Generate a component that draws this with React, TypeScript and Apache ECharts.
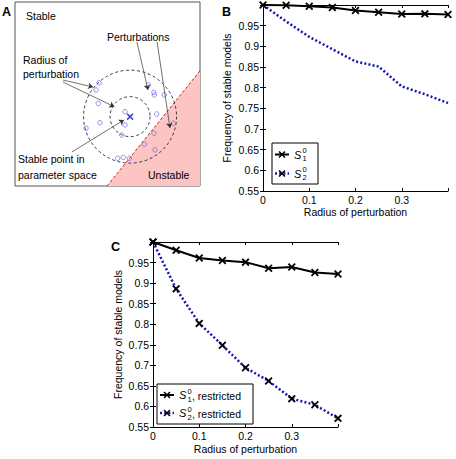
import React, { useEffect, useRef } from "react";
import * as echarts from "echarts";

// ---------- data ----------
const radius = [0, 0.05, 0.1, 0.15, 0.2, 0.25, 0.3, 0.35, 0.4];
const bS1 = [1.0, 0.9995, 0.997, 0.994, 0.9865, 0.9825, 0.978, 0.9786, 0.977];
const bS2 = [1.0, 0.9603, 0.923, 0.893, 0.8635, 0.851, 0.803, 0.784, 0.763];
const cS1 = [1.0, 0.98, 0.961, 0.955, 0.951, 0.936, 0.939, 0.926, 0.922];
const cS2 = [1.0, 0.886, 0.802, 0.749, 0.694, 0.662, 0.619, 0.604, 0.571];

// panel A schematic (unit square parameter space)
const perturbX = [0.454, 0.438, 0.45, 0.459, 0.384, 0.595, 0.595, 0.577, 0.721, 0.751, 0.753, 0.807, 0.766, 0.751, 0.856, 0.699, 0.757, 0.555, 0.585, 0.618];
const perturbY = [0.561, 0.522, 0.449, 0.344, 0.314, 0.404, 0.332, 0.277, 0.549, 0.509, 0.495, 0.495, 0.391, 0.287, 0.341, 0.228, 0.196, 0.151, 0.156, 0.151];
const stablePoint = [0.622, 0.377];
const boundaryX = [0.498, 1.0];
const boundaryY = [0.0, 0.626];
const arrows = [
  [[0.659, 0.783], [0.719, 0.522]],
  [[0.768, 0.783], [0.838, 0.315]],
  [[0.259, 0.576], [0.422, 0.538]],
  [[0.259, 0.565], [0.537, 0.431]],
  [[0.308, 0.185], [0.589, 0.359]],
];

const FONT = '"Liberation Sans", Arial, Helvetica, sans-serif';
const BLUE = "#1414b8";
const XD = "M0,1.6L1.6,0L5,3.4L8.4,0L10,1.6L6.6,5L10,8.4L8.4,10L5,6.6L1.6,10L0,8.4L3.4,5Z";
const XPATH = "path://" + XD;
const DOT: number[] = [2, 2.2];

let registered = false;
function ensureShape() {
  if (registered) return;
  echarts.graphic.registerShape("xmark", (echarts.graphic as any).extendPath(XD, {}));
  registered = true;
}

const fmt = (v: number) => String(parseFloat(v.toFixed(2)));

function plotAxes(grid: number, xName: string, yName: string, yGap: number, xGap: number) {
  const tick = { show: true, inside: true, length: 3, lineStyle: { color: "#000", width: 1 } };
  const line = { show: true, lineStyle: { color: "#000", width: 1 } };
  const label = { color: "#000", fontSize: 10.5, fontFamily: FONT };
  const xBase = { type: "value", gridIndex: grid, min: 0, max: 0.4, interval: 0.1, splitLine: { show: false }, axisLine: line, axisTick: tick };
  const yBase = { type: "value", gridIndex: grid, min: 0.55, max: 1.0, interval: 0.05, splitLine: { show: false }, axisLine: line, axisTick: tick };
  return {
    x: [
      {
        ...xBase,
        position: "bottom",
        name: xName,
        nameLocation: "middle",
        nameGap: xGap,
        nameTextStyle: { color: "#000", fontSize: 10.5, fontFamily: FONT },
        axisLabel: { ...label, margin: 3, formatter: (v: number) => (v > 0.399 ? "" : fmt(v)) },
      },
      { ...xBase, position: "top", axisLabel: { show: false } },
    ],
    y: [
      {
        ...yBase,
        position: "left",
        name: yName,
        nameLocation: "middle",
        nameGap: yGap,
        nameTextStyle: { color: "#000", fontSize: 10.5, fontFamily: FONT },
        axisLabel: { ...label, margin: 4, formatter: (v: number) => (v > 0.999 ? "" : fmt(v)) },
      },
      { ...yBase, position: "right", axisLabel: { show: false } },
    ],
  };
}

function txt(x: number, y: number, text: string, size = 10.5, extra: any = {}) {
  return {
    type: "text",
    x,
    y,
    z: 100,
    style: { text, fontSize: size, fontFamily: FONT, fill: "#000", verticalAlign: "middle", ...extra },
  };
}

function xmark(cx: number, cy: number, s: number, color: string) {
  return { type: "xmark", x: cx - s / 2, y: cy - s / 2, scaleX: s / 10, scaleY: s / 10, z: 101, style: { fill: color } };
}

// legend drawn as graphic: box + sample line + marker + labels
function legend(left: number, top: number, w: number, h: number, rows: { y: number; dotted: boolean; sub: string }[], tail: string) {
  const els: any[] = [
    { type: "rect", z: 99, shape: { x: left, y: top, width: w, height: h }, style: { fill: "#fff", stroke: "#000", lineWidth: 1 } },
  ];
  const lx0 = left + 3;
  const lx1 = left + 17;
  const sx = left + 22;
  rows.forEach((r) => {
    els.push({
      type: "line",
      z: 100,
      shape: { x1: lx0, y1: r.y, x2: lx1, y2: r.y },
      style: r.dotted ? { stroke: BLUE, lineWidth: 2.5, lineDash: DOT } : { stroke: "#000", lineWidth: 2 },
    });
    els.push(xmark((lx0 + lx1) / 2, r.y, 7, "#000"));
    els.push(txt(sx, r.y, "S", 11, { fontStyle: "italic" }));
    els.push(txt(sx + 8.5, r.y - 4, "0", 7.5));
    els.push(txt(sx + 8.5, r.y + 4, r.sub, 7.5));
    if (tail) els.push(txt(sx + 13, r.y + 0.5, tail, 10.5));
  });
  return els;
}

export default function App() {
  const ref = useRef<HTMLDivElement>(null);
  useEffect(() => {
    if (!ref.current) return;
    ensureShape();
    const chart = echarts.init(ref.current, undefined, { renderer: "svg" });
    const B = plotAxes(1, "Radius of perturbation", "Frequency of stable models", 31, 15.5);
    const C = plotAxes(2, "Radius of perturbation", "Frequency of stable models", 29.5, 16.5);
    const hidden = { type: "value", gridIndex: 0, min: 0, max: 1, show: false, splitLine: { show: false } };

    const option: any = {
      animation: false,
      textStyle: { fontFamily: FONT },
      grid: [
        { left: 15, top: 2, width: 185, height: 184, show: true, borderColor: "#555", borderWidth: 1, backgroundColor: "transparent" },
        { left: 263, top: 5, width: 185, height: 186 },
        { left: 153, top: 242, width: 185, height: 185 },
      ],
      xAxis: [{ ...hidden }, ...B.x, ...C.x],
      yAxis: [{ ...hidden }, ...B.y, ...C.y],
      series: [
        // ---- panel A ----
        {
          type: "line",
          xAxisIndex: 0,
          yAxisIndex: 0,
          data: boundaryX.map((x, i) => [x, boundaryY[i]]),
          symbol: "none",
          lineStyle: { color: "#e01818", width: 1, type: [3, 2] },
          areaStyle: { color: "#fdc4c4", origin: "start", opacity: 1 },
          clip: false,
          z: 1,
        },
        {
          type: "scatter",
          xAxisIndex: 0,
          yAxisIndex: 0,
          data: [stablePoint],
          symbol: "circle",
          symbolSize: 93,
          itemStyle: { color: "transparent", borderColor: "#111", borderWidth: 1, borderType: [3, 2.5] },
          silent: true,
          z: 3,
        },
        {
          type: "scatter",
          xAxisIndex: 0,
          yAxisIndex: 0,
          data: [stablePoint],
          symbol: "circle",
          symbolSize: 40,
          itemStyle: { color: "transparent", borderColor: "#111", borderWidth: 1, borderType: [3, 2.5] },
          silent: true,
          z: 3,
        },
        {
          type: "scatter",
          xAxisIndex: 0,
          yAxisIndex: 0,
          data: perturbX.map((x, i) => [x, perturbY[i]]),
          symbol: "circle",
          symbolSize: 4.5,
          itemStyle: { color: "transparent", borderColor: "#6a6ae0", borderWidth: 0.9 },
          z: 4,
        },
        {
          type: "scatter",
          xAxisIndex: 0,
          yAxisIndex: 0,
          data: [stablePoint],
          symbol: XPATH,
          symbolSize: 7,
          itemStyle: { color: "#1010d0" },
          z: 5,
        },
        {
          type: "lines",
          coordinateSystem: "cartesian2d",
          xAxisIndex: 0,
          yAxisIndex: 0,
          data: arrows.map((c) => ({ coords: c })),
          symbol: ["none", "arrow"],
          symbolSize: 5,
          lineStyle: { color: "#333", width: 0.7, opacity: 1 },
          z: 6,
        },
        // ---- panel B ----
        {
          name: "S_2^0",
          type: "line",
          xAxisIndex: 1,
          yAxisIndex: 1,
          data: radius.map((r, i) => [r, bS2[i]]),
          showSymbol: false,
          symbol: XPATH,
          symbolSize: 8,
          itemStyle: { color: "#000" },
          lineStyle: { color: BLUE, width: 2.5, type: DOT },
          clip: false,
          z: 2,
        },
        {
          name: "S_1^0",
          type: "line",
          xAxisIndex: 1,
          yAxisIndex: 1,
          data: radius.map((r, i) => [r, bS1[i]]),
          symbol: XPATH,
          symbolSize: 8,
          itemStyle: { color: "#000" },
          lineStyle: { color: "#000", width: 2 },
          clip: false,
          z: 3,
        },
        // ---- panel C ----
        {
          name: "S_2^0, restricted",
          type: "line",
          xAxisIndex: 3,
          yAxisIndex: 3,
          data: radius.map((r, i) => [r, cS2[i]]),
          symbol: XPATH,
          symbolSize: 8,
          itemStyle: { color: "#000" },
          lineStyle: { color: BLUE, width: 2.5, type: DOT },
          clip: false,
          z: 2,
        },
        {
          name: "S_1^0, restricted",
          type: "line",
          xAxisIndex: 3,
          yAxisIndex: 3,
          data: radius.map((r, i) => [r, cS1[i]]),
          symbol: XPATH,
          symbolSize: 8,
          itemStyle: { color: "#000" },
          lineStyle: { color: "#000", width: 2 },
          clip: false,
          z: 3,
        },
      ],
      graphic: [
        // panel letters
        txt(2, 12, "A", 12.5, { fontWeight: "bold" }),
        txt(222, 12, "B", 12.5, { fontWeight: "bold" }),
        txt(111, 247, "C", 12.5, { fontWeight: "bold" }),
        // panel A annotations
        txt(26, 16, "Stable"),
        txt(107, 37, "Perturbations"),
        txt(23, 60, "Radius of"),
        txt(23, 74, "perturbation"),
        txt(18, 159, "Stable point in"),
        txt(18, 175, "parameter space"),
        txt(148, 175, "Unstable"),
        // legends
        ...legend(272, 143, 46, 41, [
          { y: 154.5, dotted: false, sub: "1" },
          { y: 173.5, dotted: true, sub: "2" },
        ], ""),
        ...legend(157, 384, 96, 40, [
          { y: 395, dotted: false, sub: "1" },
          { y: 413, dotted: true, sub: "2" },
        ], ", restricted"),
      ],
    };
    chart.setOption(option);
    return () => chart.dispose();
  }, []);
  return (
    <div
      ref={ref}
      style={{ position: "fixed", left: 0, top: 0, width: 456, height: 459, background: "#fff" }}
    />
  );
}
